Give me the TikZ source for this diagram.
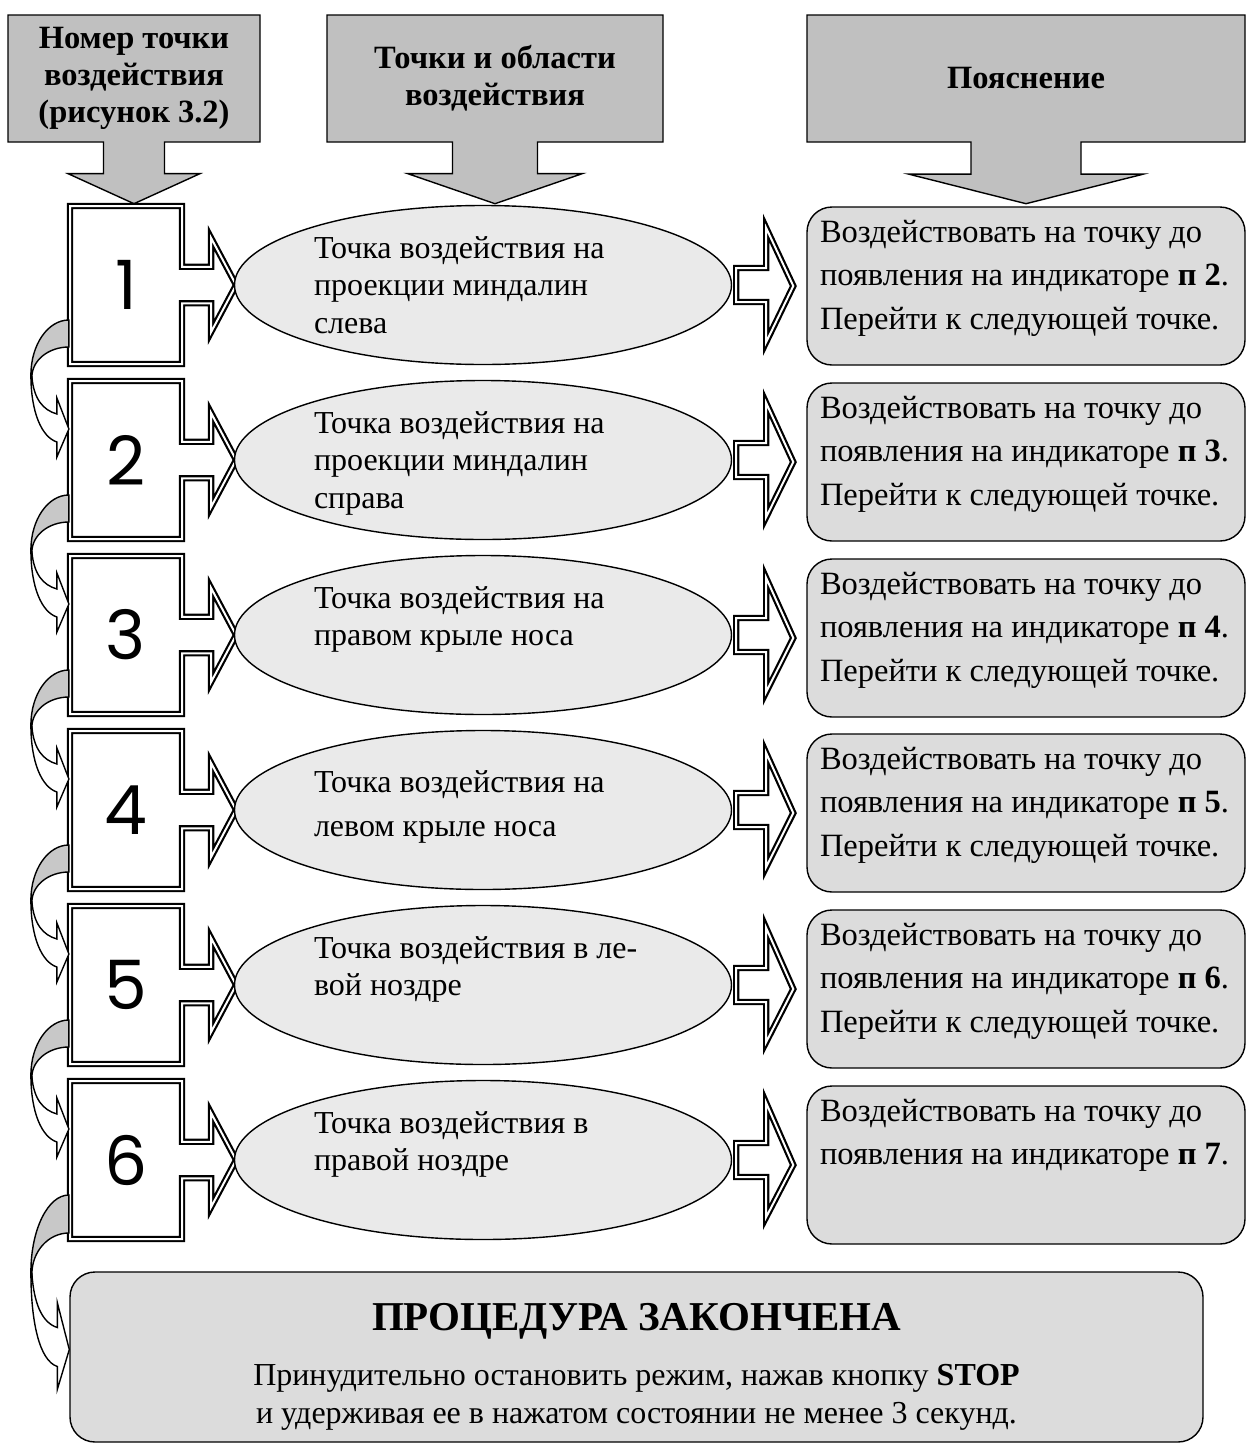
\documentclass[tikz,border=0pt]{standalone}
\usepackage{fontspec}
\setmainfont{Liberation Serif}
\newfontfamily\digitfont{Poppins}
\usetikzlibrary{shapes.geometric, shapes.arrows, calc}
\definecolor{headgray}{RGB}{192,192,192}
\definecolor{ellgray}{RGB}{234,234,234}
\definecolor{boxgray}{RGB}{220,220,220}
\definecolor{bandgray}{RGB}{200,200,200}

\begin{document}
\begin{tikzpicture}[x=1pt, y=-1pt]
    \useasboundingbox (0,0) rectangle (1247,1446);
    % Define styles
    \tikzstyle{head}=[arrow box, draw=black, line width=1.4pt, fill=headgray, align=center, inner sep=0pt, font=\fontsize{32.5}{37}\selectfont\bfseries, minimum height=127pt]
    \tikzstyle{numbox}=[arrow box, draw=black, double, line width=2.2pt, double distance=2pt, fill=white, minimum width=112pt, minimum height=158pt, inner sep=0pt, arrow box arrows={east:53pt}, arrow box shaft width=36.5pt, arrow box head extend=28.75pt, arrow box tip angle=124, font=\digitfont\fontsize{68}{68}\selectfont]
    \tikzstyle{area}=[ellipse, draw=black, line width=1.4pt, fill=ellgray, minimum width=497pt, minimum height=159pt, inner sep=0pt, font=\fontsize{32}{37.5}\selectfont]
    \tikzstyle{expl}=[rectangle, rounded corners=25pt, draw=black, line width=1.4pt, fill=boxgray, inner xsep=13pt, inner ysep=0pt, minimum height=158pt, minimum width=438pt, font=\fontsize{32.5}{43.5}\selectfont]
    \tikzstyle{final}=[rectangle, rounded corners=25pt, draw=black, line width=1.4pt, fill=boxgray, minimum width=1133pt, minimum height=170pt, inner sep=0pt, font=\fontsize{32}{38}\selectfont]
    \tikzstyle{band}=[draw=black, line width=1.4pt, fill=bandgray]
    \tikzstyle{curl}=[draw=black, line width=1.4pt, fill=white]
    \tikzstyle{hollow}=[draw=black, double, line width=2.2pt, double distance=2pt, fill=white]

    % Column heads
    \node[head, minimum width=252pt, arrow box arrows={south:61pt}, arrow box shaft width=61pt, arrow box head extend=35.5pt, arrow box tip angle=131] at (134,78.5) (hnum) {Номер точки\\воздействия\\(рисунок 3.2)};
    \node[head, minimum width=336pt, arrow box arrows={south:61pt}, arrow box shaft width=85pt, arrow box head extend=45pt, arrow box tip angle=142] at (495,78.5) (harea) {Точки и области\\воздействия};
    \node[head, minimum width=438pt, arrow box arrows={south:61pt}, arrow box shaft width=110pt, arrow box head extend=62.5pt, arrow box tip angle=151.7] at (1026,78.5) (hexpl) {Пояснение};

    % Point numbers
    \node[numbox] at (126,285) (num1) {1};
    \node[numbox] at (126,460) (num2) {2};
    \node[numbox] at (126,635) (num3) {3};
    \node[numbox] at (126,810) (num4) {4};
    \node[numbox] at (126,985) (num5) {5};
    \node[numbox] at (126,1160) (num6) {6};

    % Points and areas
    \node[area] at (483,285) (ell1) {\parbox[c][97pt][t]{338pt}{\raggedright Точка воздействия на\\проекции миндалин\\слева}};
    \node[area] at (483,460) (ell2) {\parbox[c][97pt][t]{338pt}{\raggedright Точка воздействия на\\проекции миндалин\\справа}};
    \node[area] at (483,635) (ell3) {\parbox[c][97pt][t]{338pt}{\raggedright Точка воздействия на\\правом крыле носа}};
    \node[area] at (483,810) (ell4) {\parbox[c][97pt][t]{338pt}{\raggedright\vspace*{9pt}Точка воздействия на\\[6.5pt]левом крыле носа}};
    \node[area] at (483,985) (ell5) {\parbox[c][97pt][t]{338pt}{\raggedright Точка воздействия в ле-\\вой ноздре}};
    \node[area] at (483,1160) (ell6) {\parbox[c][97pt][t]{338pt}{\raggedright Точка воздействия в\\правой ноздре}};

    % Explanations
    \node[expl] at (1026,286) (ex1) {\parbox[c][132pt][t]{412pt}{\raggedright Воздействовать на точку до\\появления на индикаторе \textbf{п 2}.\\Перейти к следующей точке.}};
    \node[expl] at (1026,462) (ex2) {\parbox[c][132pt][t]{412pt}{\raggedright Воздействовать на точку до\\появления на индикаторе \textbf{п 3}.\\Перейти к следующей точке.}};
    \node[expl] at (1026,638) (ex3) {\parbox[c][132pt][t]{412pt}{\raggedright Воздействовать на точку до\\появления на индикаторе \textbf{п 4}.\\Перейти к следующей точке.}};
    \node[expl] at (1026,813) (ex4) {\parbox[c][132pt][t]{412pt}{\raggedright Воздействовать на точку до\\появления на индикаторе \textbf{п 5}.\\Перейти к следующей точке.}};
    \node[expl] at (1026,989) (ex5) {\parbox[c][132pt][t]{412pt}{\raggedright Воздействовать на точку до\\появления на индикаторе \textbf{п 6}.\\Перейти к следующей точке.}};
    \node[expl] at (1026,1165) (ex6) {\parbox[c][132pt][t]{412pt}{\raggedright Воздействовать на точку до\\появления на индикаторе \textbf{п 7}.}};

    % End of procedure
    \node[final] at (636.5,1357) (done) {\parbox[c][150pt][t]{1100pt}{\centering\vspace*{21pt}{\fontsize{41}{44}\selectfont\bfseries ПРОЦЕДУРА ЗАКОНЧЕНА}\\[17pt]Принудительно остановить режим, нажав кнопку \textbf{STOP}\\и удерживая ее в нажатом состоянии не менее 3 секунд.}};

    % Hollow arrows to the explanations
    \foreach \i in {1,...,6} {
        \filldraw[hollow] ($(ell\i.east)+(4,-17)$) -- ++(30,0) -- ++(0,-40) -- ($(ex\i.west)+(-13,0)$) -- ($(ell\i.east)+(34,57)$) -- ++(0,-40) -- ($(ell\i.east)+(4,17)$) -- cycle;
    }

    % Curved arrows from one point to the next
    \foreach \i [evaluate=\i as \j using int(\i+1)] in {1,...,5} {
        \filldraw[band] ($(num\i.west)+(0,35)$) arc[start angle=-90, end angle=-180, x radius=38, y radius=55] -- ++(1,2) arc[start angle=-180, end angle=-90, x radius=37, y radius=30] -- cycle;
        \filldraw[curl] ($(num\i.west)+(-38,90)$) .. controls +(0,38) and +(-15,-5) .. ($(num\j.west)+(-12,-18)$) -- ++(0,15) -- ($(num\j.west)+(0,-31)$) -- ++(-12,-31) -- ++(0,16) .. controls +(-14,-4) and +(2,22) .. ($(num\i.west)+(-37,92)$) -- cycle;
    }
    \filldraw[band] ($(num6.west)+(0,35)$) arc[start angle=-90, end angle=-180, x radius=38, y radius=77] -- ++(1,2) arc[start angle=-180, end angle=-90, x radius=37, y radius=41] -- cycle;
    \filldraw[curl] ($(num6.west)+(-38,112)$) .. controls +(0,50) and +(-18,-6) .. ($(done.west)+(-12,9.5)$) -- ++(0,23) -- ($(done.west)+(0,-7.5)$) -- ++(-12,-47) -- ++(0,25) .. controls +(-16,-5) and +(2,28) .. ($(num6.west)+(-37,114)$) -- cycle;
\end{tikzpicture}
\end{document}
